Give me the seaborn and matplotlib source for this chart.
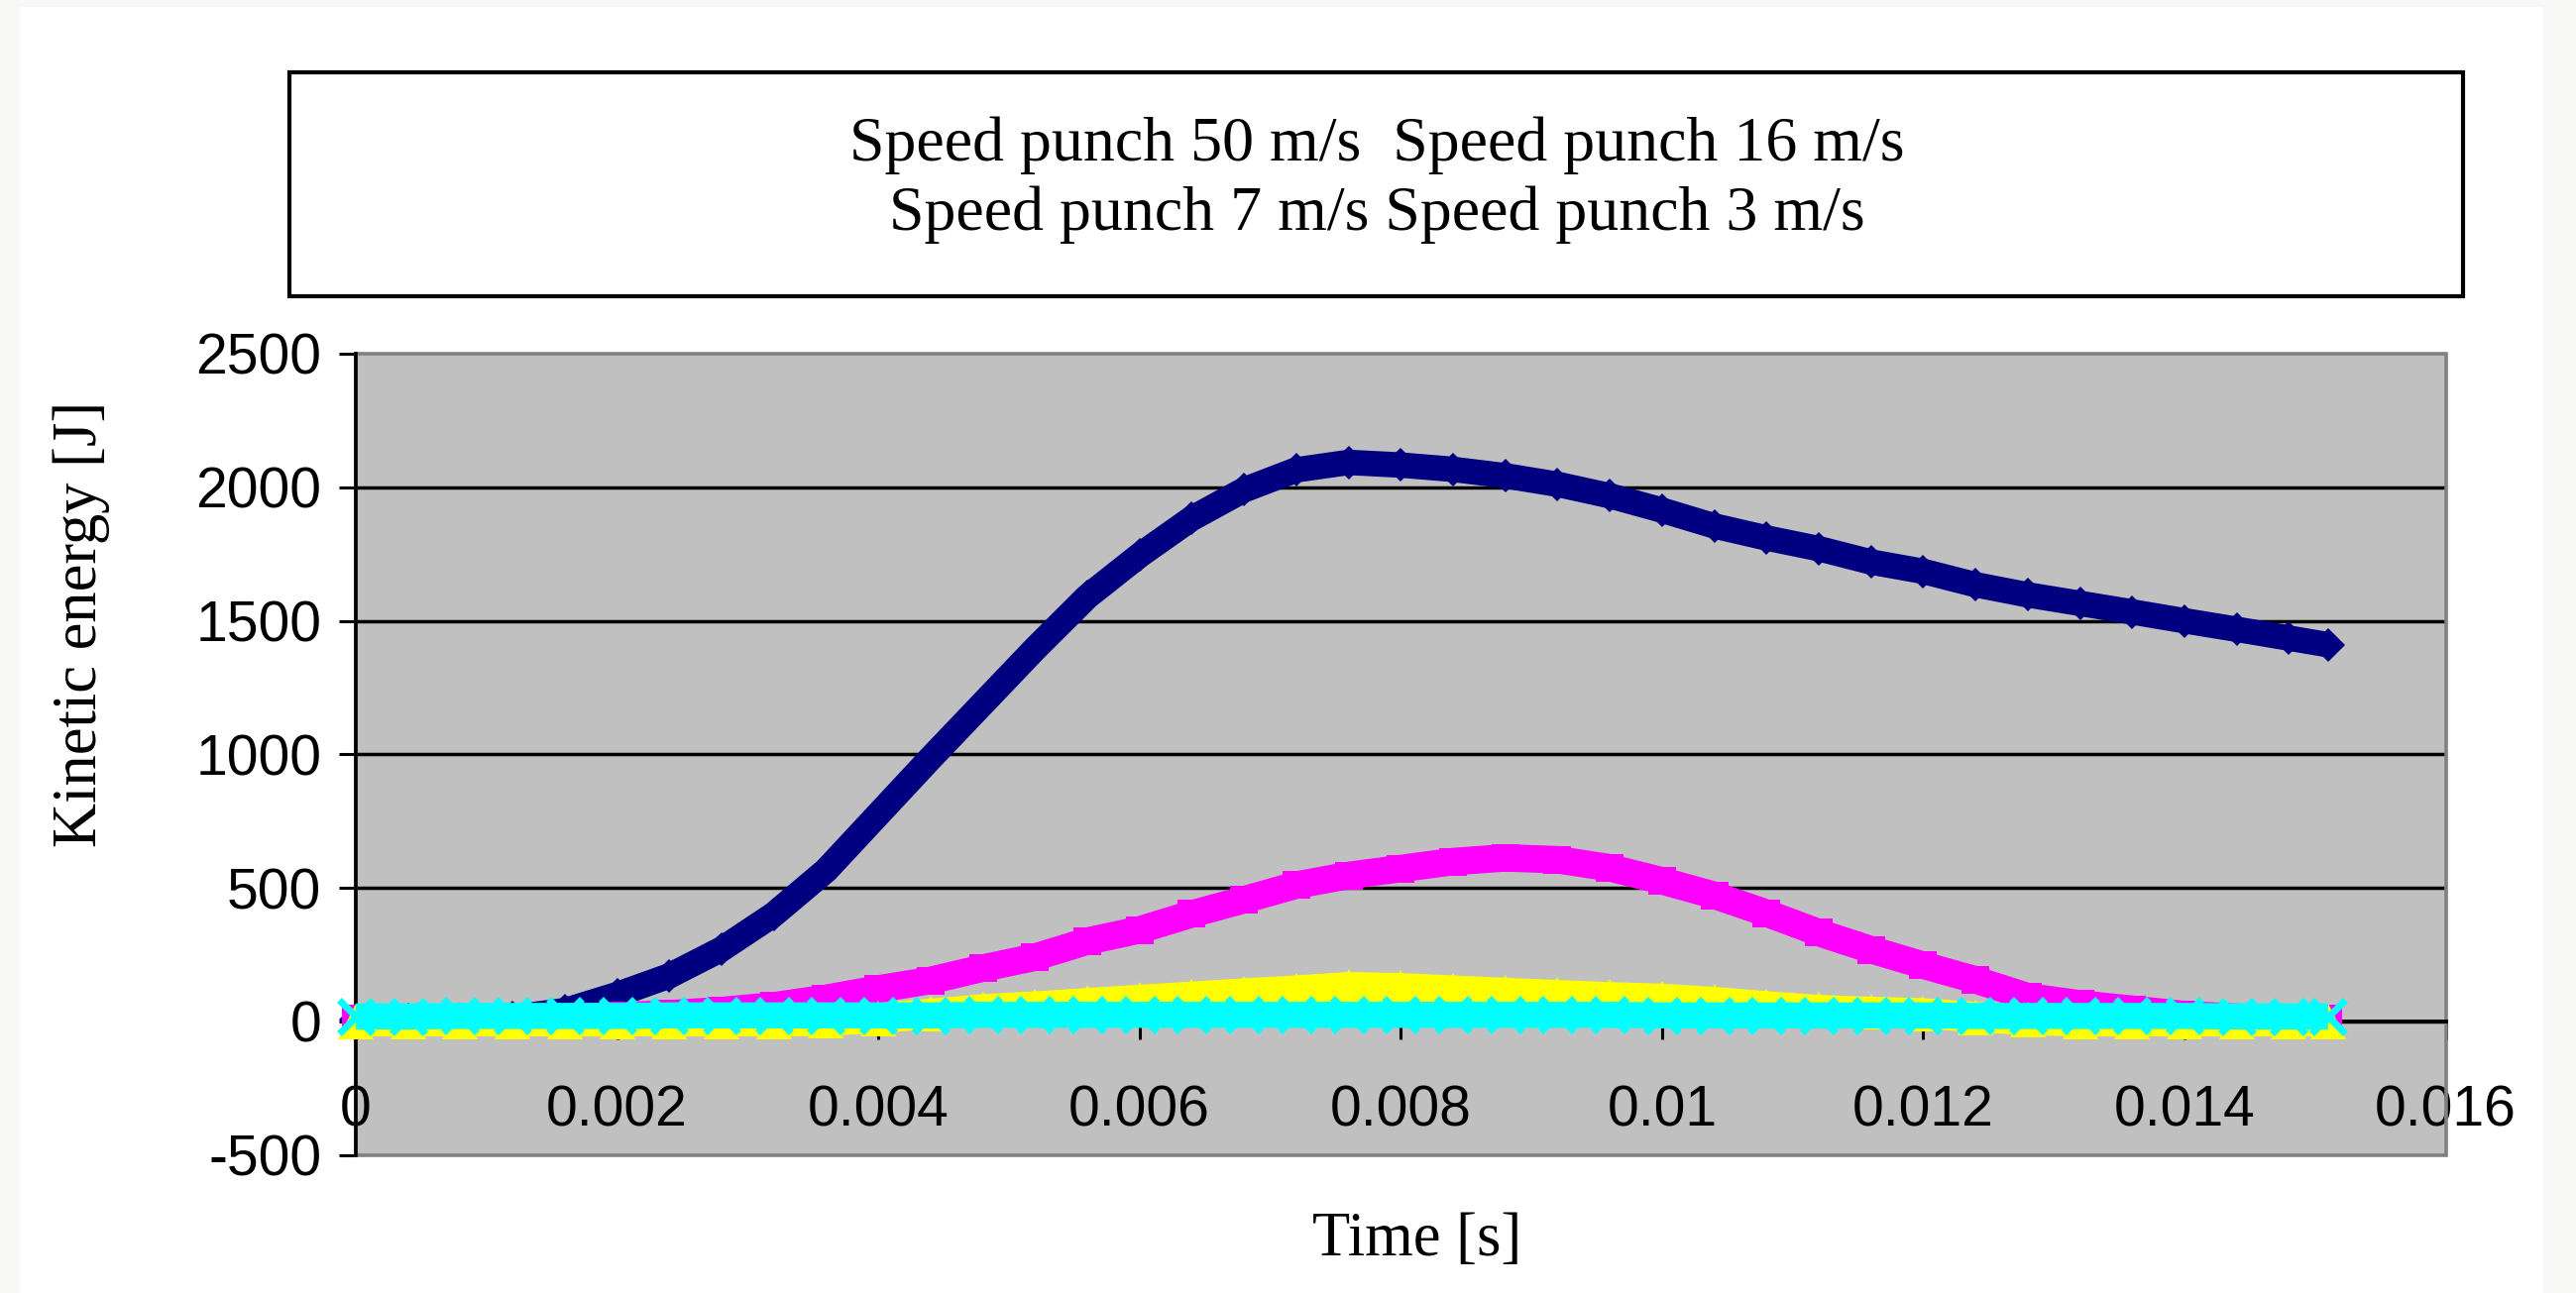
import numpy as np
import pandas as pd
import matplotlib
matplotlib.use("Agg")
import matplotlib.pyplot as plt
import seaborn as sns
from matplotlib.patches import Rectangle

# Données
time_s = [0.0, 0.0004, 0.0008, 0.0012, 0.0016, 0.0020, 0.0024, 0.0028, 0.0032, 0.0036,
          0.0040, 0.0044, 0.0048, 0.0052, 0.0056, 0.0060, 0.0064, 0.0068, 0.0072, 0.0076,
          0.0080, 0.0084, 0.0088, 0.0092, 0.0096, 0.0100, 0.0104, 0.0108, 0.0112, 0.0116,
          0.0120, 0.0124, 0.0128, 0.0132, 0.0136, 0.0140, 0.0144, 0.0148, 0.0151]
ke_50 = [5, 5, 8, 15, 40, 100, 170, 270, 400, 565,
         775, 985, 1190, 1395, 1590, 1745, 1883, 1990, 2065, 2093,
         2083, 2067, 2043, 2011, 1968, 1914, 1855, 1810, 1770, 1720,
         1685, 1635, 1597, 1565, 1533, 1500, 1468, 1435, 1410]
ke_16 = [10, 10, 10, 12, 15, 20, 28, 40, 58, 86,
         121, 153, 199, 240, 300, 342, 402, 455, 510, 546,
         572, 598, 612, 605, 575, 526, 472, 405, 332, 268,
         210, 155, 92, 65, 45, 25, 15, 10, 10]
ke_7 = [0, 0, 0, 0, 0, 0, 0, 0, 0, 2,
        12, 28, 45, 55, 68, 80, 92, 104, 115, 128,
        124, 115, 106, 98, 90, 84, 72, 56, 42, 35,
        30, 15, 5, 0, 0, 0, 0, 0, 0]
ke_3 = [18, 18, 20, 20, 20, 20, 22, 22, 22, 22,
        22, 22, 24, 24, 24, 24, 24, 24, 24, 24,
        24, 24, 24, 24, 24, 22, 22, 22, 22, 22,
        22, 20, 20, 20, 20, 20, 18, 18, 18]
series_names = ["Speed punch 50 m/s", "Speed punch 16 m/s", "Speed punch 7 m/s", "Speed punch 3 m/s"]
x_ticks = [0, 0.002, 0.004, 0.006, 0.008, 0.01, 0.012, 0.014, 0.016]
x_labels = ["0", "0.002", "0.004", "0.006", "0.008", "0.01", "0.012", "0.014", "0.016"]
y_ticks = [-500, 0, 500, 1000, 1500, 2000, 2500]
y_labels = ["-500", "0", "500", "1000", "1500", "2000", "2500"]

df = pd.DataFrame({"time": time_s * 4,
                   "energy": ke_50 + ke_16 + ke_7 + ke_3,
                   "serie": np.repeat(series_names, len(time_s))})

plt.rcParams["font.family"] = ["Liberation Sans", "DejaVu Sans"]
serif = ["Liberation Serif", "DejaVu Serif"]

W, H = 2599, 1305
fig = plt.figure(figsize=(W / 100, H / 100), dpi=100, facecolor="#f8f8f6")
fig.patches.append(Rectangle((20 / W, 0), (2566 - 20) / W, 1 - 7 / H,
                             transform=fig.transFigure, facecolor="white", edgecolor="none", zorder=-10))

# zone de tracé
x0, x1, ytop, ybot = 359, 2467.5, 357, 1165.5
ax = fig.add_axes([x0 / W, 1 - ybot / H, (x1 - x0) / W, (ybot - ytop) / H])
ax.set_facecolor("#c0c0c0")

# styles par série (ordre de tracé Excel : losange, carré, triangle, croix)
styles = {
    series_names[0]: dict(color="#000080", marker="D", ms=17, lw=18.5, mew=0),
    series_names[1]: dict(color="#ff00ff", marker="s", ms=20, lw=20, mew=0),
    series_names[2]: dict(color="#ffff00", marker="^", ms=26, lw=22, mew=0),
    series_names[3]: dict(color="#00ffff", marker="x", ms=24, lw=19, mew=5),
}
for i, name in enumerate(series_names):
    st = styles[name]
    sub = df[df["serie"] == name]
    sns.lineplot(x="time", y="energy", data=sub, ax=ax, color=st["color"], legend=False)
    ln = ax.get_lines()[-1]
    ln.set_linewidth(st["lw"])
    ln.set_marker(st["marker"])
    ln.set_markersize(st["ms"])
    ln.set_markeredgewidth(st["mew"])
    ln.set_markeredgecolor(st["color"])
    ln.set_markerfacecolor(st["color"])
    ln.set_solid_joinstyle("round")
    ln.set_solid_capstyle("butt")
    ln.set_zorder(4 + i)
    ln.set_clip_on(False)

ax.set_xlim(0, 0.016)
ax.set_ylim(-500, 2500)
ax.set_xticks(x_ticks)
ax.set_xticklabels(x_labels)
ax.set_yticks(y_ticks)
ax.set_yticklabels(y_labels)

# grille horizontale noire
ax.set_axisbelow(True)
ax.yaxis.grid(True, color="black", linewidth=2.5)
ax.xaxis.grid(False)
gl = ax.get_ygridlines()
gl[0].set_visible(False)
gl[-1].set_visible(False)

# axes : axe vertical noir à gauche, axe du temps à y = 0
for s in ["top", "right"]:
    ax.spines[s].set_visible(False)
ax.spines["left"].set_color("black")
ax.spines["left"].set_linewidth(2.6)
ax.spines["left"].set_zorder(3)
ax.spines["bottom"].set_position(("data", 0))
ax.spines["bottom"].set_color("black")
ax.spines["bottom"].set_linewidth(2.8)
ax.add_patch(Rectangle((0, 0), 1, 1, transform=ax.transAxes, fill=False,
                       edgecolor="#808080", linewidth=2.6, clip_on=False, zorder=1))

ax.tick_params(axis="y", direction="out", length=12, width=2.2, pad=13, labelsize=41, colors="black")
ax.tick_params(axis="x", direction="out", length=13, width=2.2, pad=33, labelsize=41, colors="black")

ax.set_xlabel("Time [s]", family=serif, fontsize=45, va="baseline", ha="center")
ax.xaxis.set_label_coords((1430 - x0) / (x1 - x0), (ybot - 1267) / (ybot - ytop))
ax.set_ylabel("Kinetic energy [J]", family=serif, fontsize=45, va="center", ha="center")
ax.yaxis.set_label_coords((82 - x0) / (x1 - x0), (ybot - 630) / (ybot - ytop))

# légende encadrée (texte seul)
fig.patches.append(Rectangle((292 / W, 1 - 299 / H), (2485 - 292) / W, (299 - 73) / H,
                             transform=fig.transFigure, facecolor="white", edgecolor="black",
                             linewidth=3.0, zorder=1))
ligne1 = series_names[0] + "  " + series_names[1]
ligne2 = series_names[2] + " " + series_names[3]
fig.text(1389 / W, 1 - 162 / H, ligne1, ha="center", va="baseline", family=serif, fontsize=46)
fig.text(1389 / W, 1 - 232 / H, ligne2, ha="center", va="baseline", family=serif, fontsize=46)

plt.savefig("out.png", dpi=100, facecolor=fig.get_facecolor())
plt.close()
